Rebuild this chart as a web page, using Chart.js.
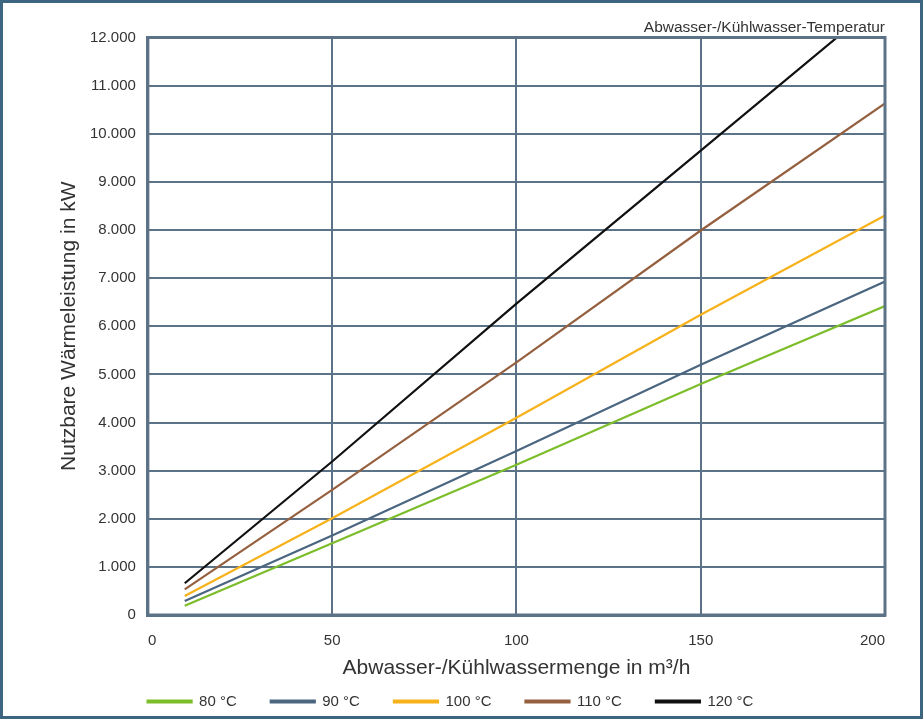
<!DOCTYPE html>
<html>
<head>
<meta charset="utf-8">
<script src="https://cdn.jsdelivr.net/npm/chart.js@4"></script>
<style>
  html, body { margin: 0; padding: 0; background: #fff; }
  #wrap { position: absolute; left: 0; top: 0; width: 923px; height: 719px; box-sizing: border-box; border: 3px solid #3e6580; }
  canvas { position: absolute; left: -3px; top: -3px; }
</style>
</head>
<body>
<div id="wrap"><canvas id="c" width="923" height="719"></canvas></div>
<script>
const flowRates = [10, 50, 100, 150, 200];
const seriesNames = ['80 °C', '90 °C', '100 °C', '110 °C', '120 °C'];
const series80 = [190, 1490, 3120, 4800, 6420];
const series90 = [290, 1650, 3410, 5200, 6930];
const series100 = [394, 2010, 4100, 6240, 8300];
const series110 = [533, 2600, 5250, 7990, 10630];
const series120 = [660, 3190, 6470, 9650, 12830];
const xTicks = [0, 50, 100, 150, 200];
const yTicks = [0, 1000, 2000, 3000, 4000, 5000, 6000, 7000, 8000, 9000, 10000, 11000, 12000];

const seriesData = [series80, series90, series100, series110, series120];
const colors = ['#7cbd2a', '#4b6680', '#f7b21b', '#95603f', '#111111'];

const fmt = v => v.toLocaleString('de-DE');
const FONT = '"Liberation Sans", Arial, sans-serif';
const gridColor = '#5c7287';

new Chart(document.getElementById('c'), {
  type: 'line',
  data: {
    datasets: seriesData.map((d, i) => ({
      label: seriesNames[i],
      data: d.map((v, j) => ({ x: flowRates[j], y: v })),
      borderColor: colors[i],
      backgroundColor: colors[i],
      borderWidth: 2.2,
      pointRadius: 0,
      tension: 0,
      clip: 0
    }))
  },
  options: {
    responsive: false,
    animation: false,
    layout: { padding: { left: 40, right: 38, top: 4, bottom: 0 } },
    plugins: {
      title: {
        display: true,
        text: 'Abwasser-/Kühlwasser-Temperatur',
        align: 'end',
        color: '#333',
        font: { family: FONT, size: 15.5, weight: 'normal' },
        padding: { top: 14.7, bottom: 0.2 }
      },
      legend: {
        position: 'bottom',
        labels: {
          color: '#333',
          font: { family: FONT, size: 15 },
          boxWidth: 44,
          boxHeight: 2,
          padding: 34
        }
      },
      tooltip: { enabled: false }
    },
    scales: {
      x: {
        type: 'linear',
        min: 0, max: 200,
        afterBuildTicks: s => { s.ticks = xTicks.map(v => ({ value: v })); },
        ticks: { color: '#333', font: { family: FONT, size: 15 }, padding: 17, align: 'inner', callback: v => fmt(v) },
        grid: { color: gridColor, lineWidth: 2, drawTicks: false },
        border: { color: gridColor, width: 3 },
        title: { display: true, text: 'Abwasser-/Kühlwassermenge in m³/h', color: '#333', font: { family: FONT, size: 21 }, padding: { top: -11.6, bottom: -20.6 } }
      },
      y: {
        min: 0, max: 12000,
        afterBuildTicks: s => { s.ticks = yTicks.map(v => ({ value: v })); },
        ticks: { color: '#333', font: { family: FONT, size: 15 }, padding: 12, callback: v => fmt(v) },
        grid: { color: gridColor, lineWidth: 2, drawTicks: false },
        border: { color: gridColor, width: 3 },
        title: { display: true, text: 'Nutzbare Wärmeleistung in kW', color: '#333', font: { family: FONT, size: 21 }, padding: { top: 16.4, bottom: -3.6 } }
      }
    }
  },
  plugins: [{
    id: 'legendShift',
    afterLayout(chart) {
      if (chart.legend) { chart.legend.left -= 12; chart.legend.right -= 12; }
    }
  }, {
    id: 'frame',
    afterDatasetsDraw(chart) {
      const { ctx, chartArea: a } = chart;
      ctx.save();
      ctx.strokeStyle = gridColor;
      ctx.lineWidth = 3;
      ctx.strokeRect(a.left, a.top, a.right - a.left, a.bottom - a.top);
      ctx.restore();
    }
  }]
});
</script>
</body>
</html>
